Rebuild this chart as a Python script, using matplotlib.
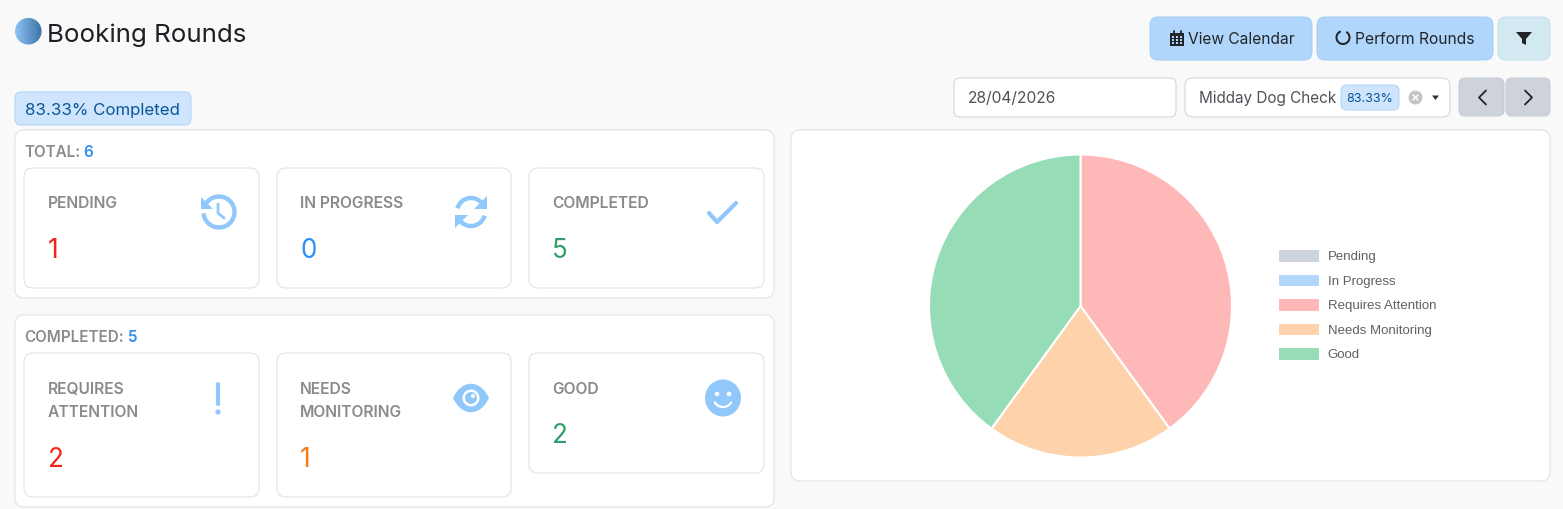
import numpy as np
import matplotlib
matplotlib.use("Agg")
import matplotlib.pyplot as plt
from matplotlib.patches import FancyBboxPatch, Circle, Polygon, Rectangle, PathPatch, Ellipse
from matplotlib.path import Path

W, H = 1563, 509

TITLE = "Booking Rounds"
COMPLETED_BADGE = "83.33% Completed"
DATE_TEXT = "28/04/2026"
ROUND_NAME = "Midday Dog Check"
ROUND_PCT = "83.33%"

# pie data
pie_labels = ["Pending", "In Progress", "Requires Attention", "Needs Monitoring", "Good"]
pie_values = [0, 0, 2, 1, 2]
pie_colors = ["#ced4dc", "#b0d7fb", "#ffb8b8", "#fed2ab", "#96dcb6"]

# card rows
top_labels = ["PENDING", "IN PROGRESS", "COMPLETED"]
top_values = [1, 0, 5]
top_colors = ["#f2231d", "#2a8ff0", "#2f9e68"]
bottom_labels = ["REQUIRES\nATTENTION", "NEEDS\nMONITORING", "GOOD"]
bottom_values = [2, 1, 2]
bottom_colors = ["#f2231d", "#f57c16", "#2f9e68"]
total_count = 6
completed_count = 5

FONT = "Inter"
ICON = "#90c8fb"
BORDER = "#e0e0e0"
GREY = "#8a8a8a"
DARK = "#212529"

plt.rcParams["font.family"] = FONT

fig = plt.figure(figsize=(W / 100, H / 100), dpi=100, facecolor="#f9f9f9")
ax = fig.add_axes([0, 0, 1, 1])
ax.set_xlim(0, W)
ax.set_ylim(H, 0)
ax.axis("off")


def px(size):
    return size * 0.72


def box(x0, y0, x1, y1, fc="white", ec=BORDER, r=9, lw=0.72, z=1):
    p = FancyBboxPatch((x0 + r, y0 + r), x1 - x0 - 2 * r, y1 - y0 - 2 * r,
                       boxstyle="round,pad=%f,rounding_size=%f" % (r, r),
                       fc=fc, ec=ec, lw=lw, zorder=z)
    ax.add_patch(p)


def label(x, y, s, size, color=DARK, weight="normal", ha="left"):
    return ax.text(x, y, s, fontsize=px(size), color=color, fontweight=weight, ha=ha,
                   va="baseline", zorder=6)


def line(xs, ys, color=ICON, lw=3.0, cap="round", z=5):
    ax.plot(xs, ys, color=color, lw=lw * 0.72, solid_capstyle=cap, solid_joinstyle="round", zorder=z)


# arcs here take screen angles (y axis is inverted, so angles run clockwise)
def arc(cx, cy, r, a0, a1, color=ICON, lw=3.0):
    t = np.radians(np.linspace(a0, a1, 60))
    line(cx + r * np.cos(t), cy + r * np.sin(t), color, lw, cap="butt")


def tri(pts, color=ICON):
    ax.add_patch(Polygon(pts, closed=True, fc=color, ec="none", zorder=5))


def icon_history(cx, cy):
    arc(cx, cy, 15.5, -150, 175, lw=4.4)
    tri([(cx - 18, cy - 15), (cx - 18, cy - 3), (cx - 6, cy - 3)])
    line([cx - 1, cx - 1, cx + 5], [cy - 8, cy + 1, cy + 6], lw=2.8)


def icon_sync(cx, cy):
    arc(cx, cy, 14, -165, -30, lw=4.4)
    arc(cx, cy, 14, 15, 150, lw=4.4)
    tri([(cx + 16, cy - 16), (cx + 16, cy - 3), (cx + 3, cy - 3)])
    tri([(cx - 16, cy + 16), (cx - 16, cy + 3), (cx - 3, cy + 3)])


def icon_check(cx, cy):
    line([cx - 13, cx - 5, cx + 14], [cy + 1, cy + 10, cy - 9], lw=4.2)


def icon_exclaim(cx, cy):
    line([cx, cx], [cy - 14, cy + 6], lw=4.2)
    ax.add_patch(Circle((cx, cy + 14), 2.6, fc=ICON, ec="none", zorder=5))


def icon_eye(cx, cy):
    verts = [(cx - 18, cy), (cx - 9, cy - 19), (cx + 9, cy - 19), (cx + 18, cy),
             (cx + 9, cy + 19), (cx - 9, cy + 19), (cx - 18, cy)]
    codes = [Path.MOVETO, Path.CURVE4, Path.CURVE4, Path.CURVE4, Path.CURVE4, Path.CURVE4, Path.CURVE4]
    ax.add_patch(PathPatch(Path(verts, codes), fc=ICON, ec="none", zorder=5))
    ax.add_patch(Circle((cx, cy), 8.5, fc="white", ec="none", zorder=6))
    ax.add_patch(Circle((cx, cy), 6, fc=ICON, ec="none", zorder=7))
    ax.add_patch(Circle((cx + 2, cy - 2), 2, fc="white", ec="none", zorder=8))


def icon_smile(cx, cy):
    ax.add_patch(Ellipse((cx, cy), 36, 37, fc=ICON, ec="none", zorder=5))
    ax.add_patch(Circle((cx - 6, cy - 4), 2.3, fc="white", ec="none", zorder=6))
    ax.add_patch(Circle((cx + 6, cy - 4), 2.3, fc="white", ec="none", zorder=6))
    t = np.radians(np.linspace(25, 155, 30))
    ax.plot(cx + 9 * np.cos(t), cy + 1 + 8 * np.sin(t), color="white", lw=1.6, zorder=6,
            solid_capstyle="round")


def icon_calendar(cx, cy):
    ax.add_patch(Rectangle((cx - 7, cy - 5), 14, 13, fc=DARK, ec="none", zorder=5))
    for dx in (-3.5, 3.5):
        line([cx + dx, cx + dx], [cy - 7, cy - 4], DARK, 1.8)
    for gx in (-4, 0, 4):
        for gy in (-1, 2, 5):
            ax.add_patch(Rectangle((cx + gx - 1, cy + gy - 0.7), 2, 1.5, fc="#b0d7fb", ec="none", zorder=6))


def icon_filter(cx, cy):
    tri([(cx - 8, cy - 6), (cx + 8, cy - 6), (cx + 2, cy + 1), (cx + 2, cy + 7), (cx - 2, cy + 5), (cx - 2, cy + 1)], DARK)


def card(x0, y0, x1, y1, text_x, name, value, color, icon, icon_xy, shift=0):
    box(x0, y0, x1, y1, z=2)
    parts = name.split("\n")
    n = len(parts)
    for i, part in enumerate(parts):
        label(text_x, y0 + 39.5 + shift + i * 23, part, 15.6, GREY, "semibold")
    label(text_x, y0 + 90 + (n - 1) * 24, str(value), 26, color)
    icon(*icon_xy)


# header
grad = np.linspace(0, 1, 64).reshape(1, -1)
cmap = matplotlib.colors.LinearSegmentedColormap.from_list("ball", ["#8cc4f4", "#3e72a6"])
im = ax.imshow(grad, extent=(15, 42, 45, 18), cmap=cmap, aspect="auto", zorder=3)
im.set_clip_path(Circle((28.3, 31.2), 13.3, transform=ax.transData))
ax.set_xlim(0, W)
ax.set_ylim(H, 0)
label(47, 41.5, TITLE, 25.9, "#1c1f24")

box(15, 92, 191, 125, fc="#cfe5fd", ec="#aed6fb", r=6)
label(25, 115, COMPLETED_BADGE, 16.9, "#0a5697")

# buttons
box(1150, 17, 1312, 60, fc="#b0d7fb", ec="#a4cff6", r=8)
icon_calendar(1177, 38)
label(1188, 44, "View Calendar", 15.5, DARK)
box(1317, 17, 1493, 60, fc="#b0d7fb", ec="#a4cff6", r=8)
arc(1343, 37.5, 6.5, -60, 250, DARK, 2.0)
label(1355, 44, "Perform Rounds", 15.6, DARK)
box(1498, 17, 1550, 60, fc="#d3e9f2", ec="#c4e2ef", r=8)
icon_filter(1524, 38)

# date + select + arrows
box(954, 78, 1176, 117, ec="#ced4da", r=6)
label(968, 103, DATE_TEXT, 15.6, "#4f5358")
box(1185, 78, 1450, 117, ec="#ced4da", r=8)
label(1199, 103, ROUND_NAME, 15.3, "#4f5358")
box(1341, 85, 1399, 110, fc="#cfe5fd", ec="#aed6fb", r=6)
label(1370, 102, ROUND_PCT, 12.6, "#0a5697", ha="center")
ax.add_patch(Circle((1415.5, 97.5), 7, fc="#c4c4c4", ec="none", zorder=5))
line([1413, 1418], [95, 100], "white", 1.5, z=6)
line([1418, 1413], [95, 100], "white", 1.5, z=6)
tri([(1432, 95.5), (1439, 95.5), (1435.5, 100)], "#333333")
box(1459, 78, 1504, 116, fc="#ced3da", ec="#c6ccd3", r=6)
line([1486, 1479, 1486], [90.5, 97.5, 104.5], DARK, 1.8)
box(1506, 78, 1550, 116, fc="#ced3da", ec="#c6ccd3", r=6)
line([1525, 1532, 1525], [90.5, 97.5, 104.5], DARK, 1.8)

# left panels
box(15, 130, 774, 298)
label(24.5, 157, "TOTAL:", 15.2, GREY, "semibold")
label(83, 157, str(total_count), 15.2, "#2a8ff0", "semibold")
box(15, 315, 774, 507)
label(24.5, 342, "COMPLETED:", 15.2, GREY, "semibold")
label(128, 342, str(completed_count), 15.2, "#2a8ff0", "semibold")

top_x = [(24, 259), (277, 511), (529, 764)]
text_x = [48, 300, 552]
top_icons = [icon_history, icon_sync, icon_check]
top_icon_xy = [(219, 212), (471, 212), (722, 212)]
for i in range(3):
    card(top_x[i][0], 168, top_x[i][1], 288, text_x[i], top_labels[i], top_values[i], top_colors[i],
         top_icons[i], top_icon_xy[i])

bottom_y1 = [497, 497, 473]
bottom_icons = [icon_exclaim, icon_eye, icon_smile]
bottom_icon_xy = [(218, 398), (471, 398), (723, 398)]
for i in range(3):
    card(top_x[i][0], 353, top_x[i][1], bottom_y1[i], text_x[i], bottom_labels[i], bottom_values[i],
         bottom_colors[i], bottom_icons[i], bottom_icon_xy[i], shift=1.5)

# right panel with pie
box(791, 130, 1550, 481)
cx, cy, r = 1080.5, 306, 151.5
pie_ax = fig.add_axes([(cx - r) / W, (H - cy - r) / H, 2 * r / W, 2 * r / H])
pie_ax.patch.set_alpha(0)
wedges, _ = pie_ax.pie(pie_values, colors=pie_colors, startangle=90, counterclock=False, radius=1,
                       wedgeprops={"edgecolor": "white", "linewidth": 1.5, "clip_on": False})
pie_ax.set_xlim(-1, 1)
pie_ax.set_ylim(-1, 1)
pie_ax.legend(wedges, pie_labels, loc="upper left",
              bbox_to_anchor=((1278 - (cx - r)) / (2 * r), 1 - (249 - (cy - r)) / (2 * r)),
              frameon=False, borderpad=0, borderaxespad=0, handlelength=3.15, handleheight=1.2,
              handletextpad=0.6, labelspacing=0.77,
              labelcolor="#606060", prop={"family": "Liberation Sans", "size": px(13.3)})

fig.savefig("out.png", dpi=100, facecolor=fig.get_facecolor())
